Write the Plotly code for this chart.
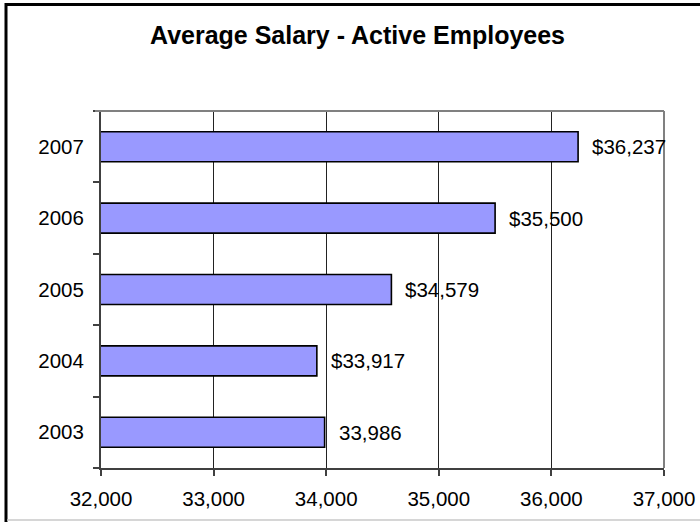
import plotly.graph_objects as go

years = [2003, 2004, 2005, 2006, 2007]
salaries = [33986, 33917, 34579, 35500, 36237]
labels = ["33,986", "$33,917", "$34,579", "$35,500", "$36,237"]
x_ticks = [32000, 33000, 34000, 35000, 36000, 37000]
x_tick_text = ["32,000", "33,000", "34,000", "35,000", "36,000", "37,000"]
title_text = "Average Salary - Active Employees"

W, H = 700, 522
L, R, T, B = 101, 36, 111, 54
pw, ph = W - L - R, H - T - B

def px2paper_x(px):
    return (px - L) / pw

def py2paper_y(py):
    return (H - B - py) / ph

FONT = "Liberation Sans, Arial, sans-serif"

fig = go.Figure()
fig.add_trace(go.Bar(
    x=salaries, y=years, orientation="h",
    marker=dict(color="#9999FF", line=dict(color="#000000", width=1.6)),
    width=0.42, hoverinfo="skip",
))

annotations = []
for v, yv, t in zip(salaries, years, labels):
    annotations.append(dict(x=v, y=yv, xref="x", yref="y", text=t, showarrow=False,
                            xanchor="left", yanchor="middle", xshift=12,
                            font=dict(family=FONT, size=20.5, color="#000000")))
annotations.append(dict(x=px2paper_x(357), y=py2paper_y(35), xref="paper", yref="paper",
                        text="<b>" + title_text + "</b>", showarrow=False,
                        xanchor="center", yanchor="middle",
                        font=dict(family=FONT, size=25, color="#000000")))

shapes = [
    dict(type="line", xref="paper", yref="paper", x0=px2paper_x(95), x1=1, y0=1, y1=1,
         line=dict(color="#808080", width=2)),
    dict(type="line", xref="paper", yref="paper", x0=1, x1=1, y0=0, y1=1,
         line=dict(color="#808080", width=2)),
    dict(type="line", xref="paper", yref="paper", x0=px2paper_x(6), x1=px2paper_x(700),
         y0=py2paper_y(4.5), y1=py2paper_y(4.5), line=dict(color="#000000", width=3)),
    dict(type="line", xref="paper", yref="paper", x0=px2paper_x(6), x1=px2paper_x(6),
         y0=py2paper_y(3), y1=py2paper_y(522), line=dict(color="#000000", width=3)),
    dict(type="line", xref="paper", yref="paper", x0=px2paper_x(7), x1=px2paper_x(700),
         y0=py2paper_y(520), y1=py2paper_y(520), line=dict(color="#C8C8C8", width=1.5)),
]

fig.update_layout(
    template="none",
    width=W, height=H,
    margin=dict(l=L, r=R, t=T, b=B, pad=0, autoexpand=False),
    paper_bgcolor="#FFFFFF", plot_bgcolor="#FFFFFF",
    showlegend=False,
    annotations=annotations,
    shapes=shapes,
    font=dict(family=FONT, size=20, color="#000000"),
    xaxis=dict(range=[32000, 37000], tickvals=x_ticks, ticktext=x_tick_text,
               automargin=False,
               showgrid=True, gridcolor="#222222", gridwidth=1,
               showline=True, linecolor="#404040", linewidth=2,
               ticks="outside", ticklen=6, tickcolor="#404040", tickwidth=1.5,
               ticklabelstandoff=5,
               zeroline=False, fixedrange=True,
               tickfont=dict(family=FONT, size=20.5, color="#000000")),
    yaxis=dict(range=[2002.5, 2007.5], tickvals=years, ticktext=[str(y) for y in years],
               automargin=False,
               showgrid=False, showline=True, linecolor="#404040", linewidth=2,
               ticks="", ticklen=0, zeroline=False, fixedrange=True,
               ticklabelstandoff=11,
               minor=dict(tick0=2002.5, dtick=1, ticks="outside", ticklen=6,
                          tickcolor="#404040", tickwidth=1.5, showgrid=False),
               tickfont=dict(family=FONT, size=20.5, color="#000000")),
)

fig.write_html("out.html", config={"displayModeBar": False})
